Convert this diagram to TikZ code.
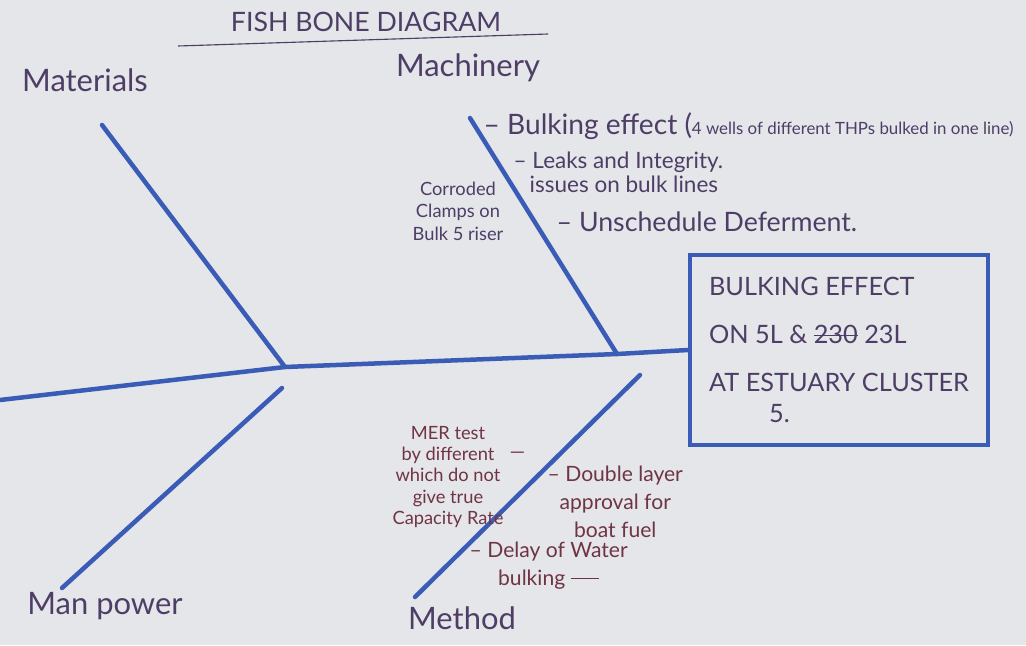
\documentclass[tikz,border=0pt]{standalone}
\usepackage{fontspec}
\setmainfont{Lato}
\usetikzlibrary{positioning}
\definecolor{paper}{RGB}{228,230,234}
\definecolor{bonecol}{RGB}{58,92,182}
\definecolor{inkcol}{RGB}{78,62,102}
\definecolor{redink}{RGB}{112,52,66}
\newcommand\struck[1]{\setbox0\hbox{#1}\rlap{\rule[0.3em]{\wd0}{0.9pt}}\box0}
\begin{document}
\begin{tikzpicture}[x=0.025cm,y=-0.025cm,
      bone/.style={line width=3.2pt,draw=bonecol,line cap=round},
      category/.style={font=\fontsize{22}{26}\selectfont,text=inkcol,inner sep=1pt},
      cause/.style={font=\fontsize{16}{19}\selectfont,text=inkcol,inner sep=1pt,anchor=west,align=left},
      method cause/.style={font=\fontsize{14}{16}\selectfont,text=redink,inner sep=1pt,align=center},
      effectbox/.style={rectangle,line width=3pt,draw=bonecol,minimum width=298*0.025cm,
         minimum height=190*0.025cm,align=left,text=inkcol,
         font=\fontsize{18}{34}\selectfont},
      %text height=1.5ex,text depth=.25ex
    ]
    \fill[paper] (0,0) rectangle (1026,645);
    \useasboundingbox (0,0) rectangle (1026,645);
    % title
    \node (title) [font=\fontsize{19}{22}\selectfont,text=inkcol] at (366,22) {FISH BONE DIAGRAM};
    \coordinate (u1) at (178,46);
    \coordinate (u2) at (548,34);
    \draw[inkcol,thick] (u1) -- (u2);
    % head
    \node (effect) [effectbox] at (839,350)
      {BULKING EFFECT\\ON 5L \& \struck{230}\ 23L\\AT ESTUARY CLUSTER\\[-12pt]\hspace*{1.5cm}5.};
    % spine
    \coordinate (tail) at (0,400);
    \coordinate (j1) at (285,367);
    \coordinate (j2) at (617,354);
    \draw[bone] (tail) -- (j1) -- (j2) -- (effect.west);
    % bones
    \coordinate (b1) at (102,125);
    \coordinate (b2) at (470,118);
    \coordinate (b3) at (62,588);
    \coordinate (b3e) at (282,388);
    \coordinate (b4) at (415,597);
    \coordinate (b4e) at (640,375);
    \draw[bone] (b1) -- (j1);
    \draw[bone] (b2) -- (j2);
    \draw[bone] (b3) -- (b3e);
    \draw[bone] (b4) -- (b4e);
    % categories
    \node (n1) [category] at (85,80) {Materials};
    \node (n2) [category] at (468,68) {Machinery};
    \node (n3) [category] at (105,606) {Man power};
    \node (n4) [category] at (462,618) {Method};
    % machinery causes
    \node (c21) [cause,font=\fontsize{20}{24}\selectfont] at (482,126)
      {-- Bulking effect (\fontsize{12}{14}\selectfont 4 wells of different THPs bulked in one line)};
    \node (c22) [cause,font=\fontsize{16}{17}\selectfont] at (512,172)
      {-- Leaks and Integrity.\\\hspace*{0.4cm}issues on bulk lines};
    \node (c23) [cause,font=\fontsize{19}{22}\selectfont] at (555,222) {-- Unschedule Deferment.};
    \node (c24) [cause,font=\fontsize{13}{16}\selectfont,align=center,anchor=center] at (458,211)
      {Corroded\\Clamps on\\Bulk 5 riser};
    % method causes
    \node (c41) [method cause,font=\fontsize{13}{15}\selectfont] at (448,477)
      {MER test\\by different\\which do not\\give true\\Capacity Rate};
    \node (c42) [method cause,text=redink,anchor=west] at (508,455) {---};
    \node (c43) [method cause,font=\fontsize{15}{20}\selectfont,anchor=north west] at (546,464)
      {-- Double layer\\approval for\\boat fuel};
    \node (c44) [method cause,font=\fontsize{15}{20}\selectfont,anchor=north west] at (468,540)
      {-- Delay of Water\\bulking \struck{\phantom{tax}}};
\end{tikzpicture}
\end{document}
